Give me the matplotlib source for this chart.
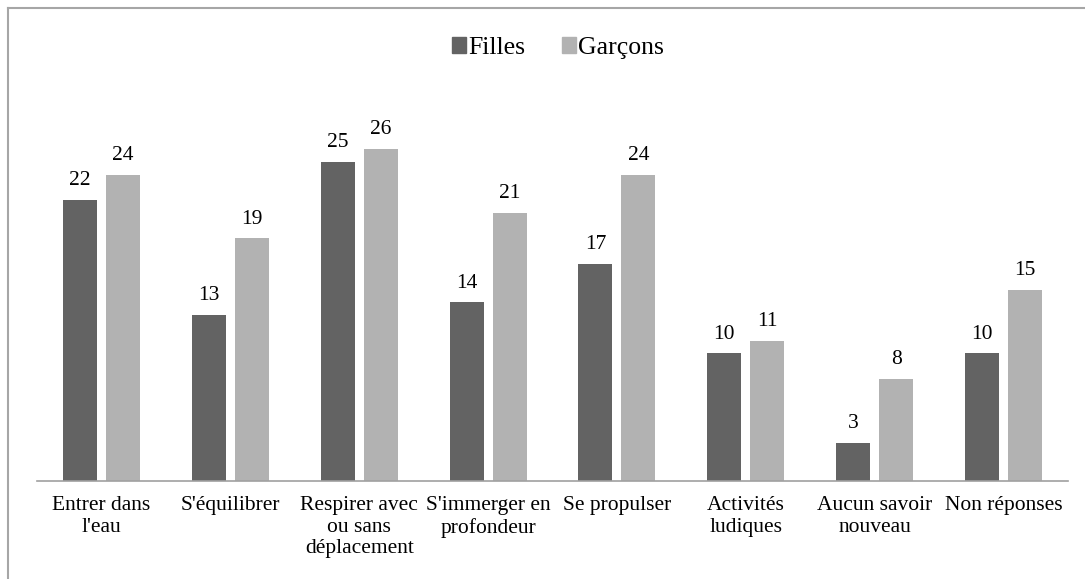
import matplotlib.pyplot as plt
import numpy as np
from matplotlib.lines import Line2D
from matplotlib.patches import Patch

categories = [
    "Entrer dans\nl'eau",
    "S'équilibrer",
    "Respirer avec\nou sans\ndéplacement",
    "S'immerger en\nprofondeur",
    "Se propulser",
    "Activités\nludiques",
    "Aucun savoir\nnouveau",
    "Non réponses",
]
filles = [22, 13, 25, 14, 17, 10, 3, 10]
garcons = [24, 19, 26, 21, 24, 11, 8, 15]

DARK = "#636363"
LIGHT = "#b2b2b2"

plt.rcParams["font.family"] = ["Liberation Serif", "DejaVu Serif"]

fig = plt.figure(figsize=(10.85, 5.79), dpi=100)
ax = fig.add_axes([37 / 1085, 1 - 481 / 579, 1031 / 1085, 383 / 579])

x = np.arange(len(categories))
w = 0.264
off = 0.167
b1 = ax.bar(x - off, filles, w, color=DARK, label="Filles")
b2 = ax.bar(x + off, garcons, w, color=LIGHT, label="Garçons")
ax.bar_label(b1, padding=7, fontsize=15.5)
ax.bar_label(b2, padding=7, fontsize=15.5)

ax.set_xlim(-0.5, len(categories) - 0.5)
ax.set_ylim(0, 30)
ax.set_yticks([])
ax.set_xticks(x)
ax.set_xticklabels(categories, fontsize=15.5, linespacing=1.17)
ax.tick_params(axis="x", length=0, pad=11)
for side in ["top", "right", "left"]:
    ax.spines[side].set_visible(False)
ax.spines["bottom"].set_color("#a0a0a0")
ax.spines["bottom"].set_linewidth(1.2)

handles = [Patch(color=DARK), Patch(color=LIGHT)]
fig.legend(handles, ["Filles", "Garçons"], loc="center", bbox_to_anchor=(558 / 1085, 1 - 48 / 579),
           ncol=2, frameon=False, fontsize=18.5, handlelength=0.55, handleheight=0.55,
           handletextpad=0.1, columnspacing=1.4)

# chart border: left and top edges
fig.add_artist(Line2D([8 / 1085, 8 / 1085], [0, 1 - 8 / 579], color="#a6a6a6", lw=1.5))
fig.add_artist(Line2D([8 / 1085, 1], [1 - 8 / 579, 1 - 8 / 579], color="#a6a6a6", lw=1.5))

fig.savefig("out.png", dpi=100)
